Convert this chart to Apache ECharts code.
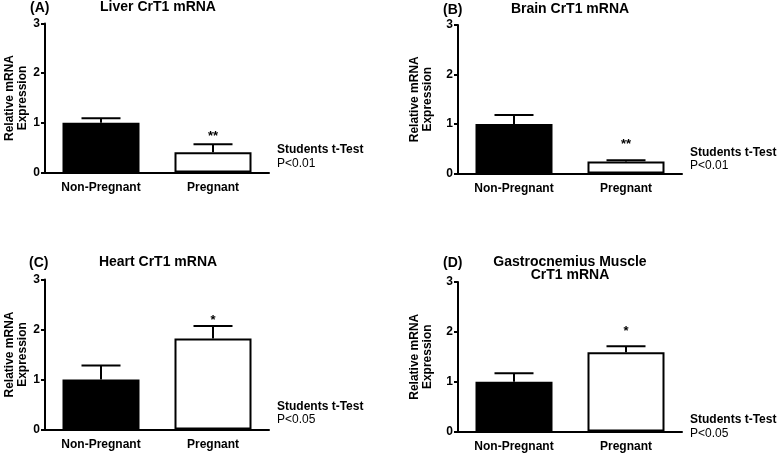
<!DOCTYPE html>
<html><head><meta charset="utf-8">
<script src="https://cdn.jsdelivr.net/npm/echarts@6/dist/echarts.min.js"></script>
<style>html,body{margin:0;padding:0;background:#fff}#c{width:778px;height:454px}</style>
</head><body><div id="c"></div>
<script>
// ---- data ----
const categories = ['Non-Pregnant', 'Pregnant'];
const panelLetters = ['(A)', '(B)', '(C)', '(D)'];
const panelTitles = ['Liver CrT1 mRNA', 'Brain CrT1 mRNA', 'Heart CrT1 mRNA', 'Gastrocnemius Muscle\nCrT1 mRNA'];
const yAxisName = 'Relative mRNA\nExpression';
const yMin = 0, yMax = 3, yStep = 1;
const liverMean = [1.00, 0.41];
const liverErr = [0.09, 0.16];
const brainMean = [1.00, 0.24];
const brainErr = [0.18, 0.03];
const heartMean = [1.00, 1.82];
const heartErr = [0.28, 0.25];
const muscleMean = [1.00, 1.59];
const muscleErr = [0.17, 0.12];
const significance = ['**', '**', '*', '*'];
const testName = 'Students t-Test';
const pValues = ['P<0.01', 'P<0.01', 'P<0.05', 'P<0.05'];

const means = [liverMean, brainMean, heartMean, muscleMean];
const errs = [liverErr, brainErr, heartErr, muscleErr];

// ---- layout (positions / styles only) ----
const FONT = '"Liberation Sans", Arial, Helvetica, sans-serif';
const layouts = [
  {left: 45,  top: 23.5, height: 149, nameGap: 16, starOff: 6,  letterX: 30,  letterY: 8,   titleX: 158, titleY: 8,   statX: 277, statY: 150},
  {left: 458, top: 25,   height: 148.5, nameGap: 24, starOff: 14, letterX: 443, letterY: 10,  titleX: 570, titleY: 10,  statX: 690, statY: 152.5},
  {left: 45,  top: 279.5, height: 150, nameGap: 16, starOff: 4,  letterX: 29,  letterY: 263, titleX: 158, titleY: 263, statX: 277, statY: 406.5},
  {left: 458, top: 282,  height: 149.5, nameGap: 24, starOff: 13, letterX: 443, letterY: 263, titleX: 570, titleY: 263, statX: 690, statY: 420}
];

const grids = [], xAxes = [], yAxes = [], series = [], titles = [];

layouts.forEach((L, k) => {
  grids.push({left: L.left, top: L.top, width: 224, height: L.height, containLabel: false});
  xAxes.push({
    type: 'category', gridIndex: k, data: categories,
    axisLine: {lineStyle: {color: '#000', width: 2}},
    axisTick: {alignWithLabel: true, length: 4, lineStyle: {color: '#000', width: 2}},
    axisLabel: {color: '#000', fontFamily: FONT, fontWeight: 'bold', fontSize: 12, margin: 9}
  });
  yAxes.push({
    type: 'value', gridIndex: k, min: yMin, max: yMax, interval: yStep,
    name: yAxisName, nameLocation: 'middle', nameRotate: 90, nameGap: L.nameGap,
    nameTextStyle: {color: '#000', fontFamily: FONT, fontWeight: 'bold', fontSize: 12, lineHeight: 13},
    axisLine: {show: true, lineStyle: {color: '#000', width: 2}},
    axisTick: {show: true, length: 4, lineStyle: {color: '#000', width: 2}},
    splitLine: {show: false},
    axisLabel: {color: '#000', fontFamily: FONT, fontWeight: 'bold', fontSize: 12, margin: 5}
  });
  series.push({
    type: 'bar', xAxisIndex: k, yAxisIndex: k, barWidth: 77, silent: true,
    data: means[k].map((v, i) => ({
      value: v,
      itemStyle: i === 0 ? {color: '#000', borderColor: '#000', borderWidth: 2}
                         : {color: '#fff', borderColor: '#000', borderWidth: 2}
    }))
  });
  const star = significance[k];
  series.push({
    type: 'custom', xAxisIndex: k, yAxisIndex: k, silent: true, z: 5,
    data: means[k].map((v, i) => [i, v, errs[k][i]]),
    renderItem: function (params, api) {
      const i = api.value(0), m = api.value(1), e = api.value(2);
      const p0 = api.coord([i, m]);
      const p1 = api.coord([i, m + e]);
      const half = 19.5;
      const children = [
        {type: 'line', shape: {x1: p0[0], y1: p0[1], x2: p1[0], y2: p1[1]}, style: {stroke: '#000', lineWidth: 2}},
        {type: 'line', shape: {x1: p1[0] - half, y1: p1[1], x2: p1[0] + half, y2: p1[1]}, style: {stroke: '#000', lineWidth: 2}}
      ];
      if (i === 1) {
        children.push({type: 'text', style: {text: star, x: p1[0], y: p1[1] - L.starOff - 2,
          align: 'center', verticalAlign: 'middle', fill: '#000',
          font: 'bold 13px ' + FONT}});
      }
      return {type: 'group', children: children};
    }
  });
  titles.push({text: panelLetters[k], left: L.letterX, top: L.letterY - 8, padding: 0,
    textStyle: {color: '#000', fontFamily: FONT, fontWeight: 'bold', fontSize: 14, lineHeight: 16}});
  titles.push({text: panelTitles[k], left: L.titleX, top: L.titleY - 8, padding: 0, textAlign: 'center',
    textStyle: {color: '#000', fontFamily: FONT, fontWeight: 'bold', fontSize: 14, lineHeight: 13.5, align: 'center'}});
  titles.push({text: testName, left: L.statX, top: L.statY - 7, padding: 0,
    textStyle: {color: '#000', fontFamily: FONT, fontWeight: 'bold', fontSize: 12, lineHeight: 14}});
  titles.push({text: pValues[k], left: L.statX, top: L.statY + 6.5, padding: 0,
    textStyle: {color: '#000', fontFamily: FONT, fontWeight: 'normal', fontSize: 12, lineHeight: 14}});
});

const chart = echarts.init(document.getElementById('c'), null, {renderer: 'canvas'});
chart.setOption({
  animation: false,
  backgroundColor: '#fff',
  title: titles,
  grid: grids,
  xAxis: xAxes,
  yAxis: yAxes,
  series: series
});
</script>
</body></html>
